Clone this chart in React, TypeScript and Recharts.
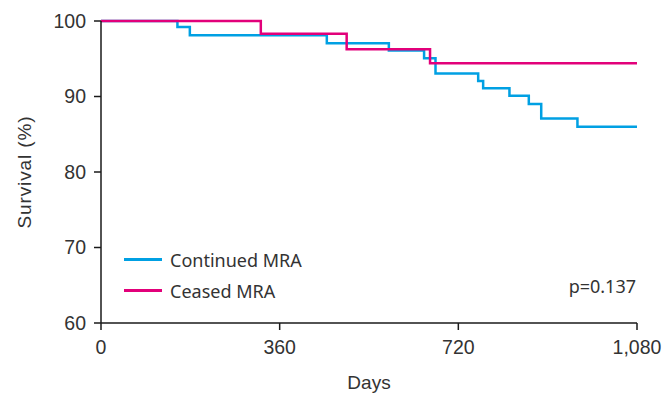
import { LineChart, Line, XAxis, YAxis, Label } from "recharts";

const continuedDays = [0, 154, 179, 455, 580, 651, 674, 760, 770, 823, 862, 887, 960, 1080];
const continuedSurvival = [100, 99.2, 98.1, 97.05, 96.1, 95.05, 93.05, 92.05, 91.1, 90.1, 89.0, 87.1, 86.0, 86.0];

const ceasedDays = [0, 322, 495, 663, 1080];
const ceasedSurvival = [100, 98.3, 96.25, 94.4, 94.4];

const xTicks = [0, 360, 720, 1080];
const yTicks = [60, 70, 80, 90, 100];

const BLUE = "#00a0e3";
const PINK = "#e2007a";
const AXIS = "#1a1a1a";
const TEXT = "#333333";

const continued = continuedDays.map((day, i) => ({ day, surv: continuedSurvival[i] }));
const ceased = ceasedDays.map((day, i) => ({ day, surv: ceasedSurvival[i] }));

const series = [
  { name: "Continued MRA", color: BLUE, data: continued },
  { name: "Ceased MRA", color: PINK, data: ceased },
];

const sans = "Liberation Sans, Arial, sans-serif";
const tickStyle = { fontFamily: sans, fontSize: 19.5, fill: TEXT };
const noto = { fontFamily: "Noto Sans, sans-serif", fontSize: 18, color: TEXT };

export default function App() {
  return (
    <div style={{ position: "absolute", left: 0, top: 0, width: 665, height: 395, background: "#fff" }}>
      <LineChart width={665} height={395} margin={{ top: 21, right: 28, bottom: 0, left: 0 }}>
        <XAxis
          dataKey="day"
          type="number"
          domain={[0, 1080]}
          ticks={xTicks}
          tickFormatter={(v: number) => v.toLocaleString("en-US")}
          tick={tickStyle}
          tickSize={7}
          tickMargin={10}
          height={72}
          stroke={AXIS}
          strokeWidth={1.5}
        >
          <Label value="Days" position="insideBottom" offset={6} style={{ fontFamily: sans, fontSize: 19, fill: TEXT }} />
        </XAxis>
        <YAxis
          type="number"
          domain={[60, 100]}
          ticks={yTicks}
          tick={tickStyle}
          tickSize={7}
          tickMargin={8}
          width={101}
          stroke={AXIS}
          strokeWidth={1.5}
        >
          <Label
            value="Survival (%)"
            angle={-90}
            position="insideLeft"
            offset={24}
            style={{ textAnchor: "middle", fontFamily: sans, fontSize: 19, letterSpacing: 0.9, fill: TEXT }}
          />
        </YAxis>
        {series.map((s) => (
          <Line
            key={s.name}
            data={s.data}
            dataKey="surv"
            name={s.name}
            type="stepAfter"
            stroke={s.color}
            strokeWidth={2.5}
            dot={false}
            activeDot={false}
            isAnimationActive={false}
          />
        ))}
      </LineChart>
      <div style={{ position: "absolute", left: 124, top: 244, ...noto }}>
        {series.map((s) => (
          <div key={s.name} style={{ display: "flex", alignItems: "center", height: 31 }}>
            <span style={{ display: "inline-block", width: 38, height: 2.5, background: s.color, marginRight: 8 }} />
            {s.name}
          </div>
        ))}
      </div>
      <div style={{ position: "absolute", right: 29, top: 274, ...noto }}>p=0.137</div>
    </div>
  );
}
